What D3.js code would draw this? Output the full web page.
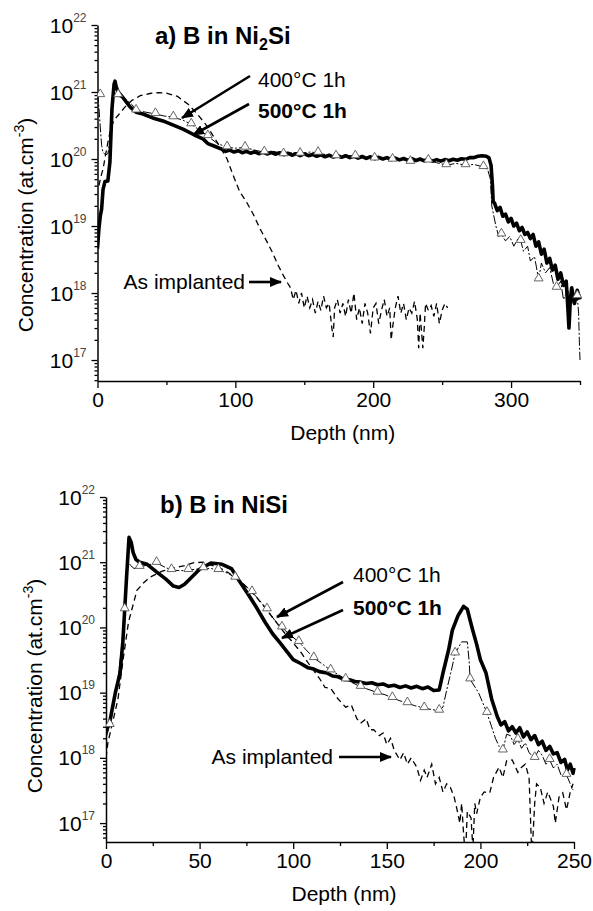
<!DOCTYPE html>
<html>
<head>
<meta charset="utf-8">
<script src="https://cdn.jsdelivr.net/npm/d3@7"></script>
<style>
  body { margin: 0; background: #fff; }
  text { font-family: "Liberation Sans", Arial, sans-serif; fill: #000; }
</style>
</head>
<body>
<div class="chart"></div>
<script>
// ---------- DATA (depth in nm, concentration in at.cm-3) ----------

// a) B in Ni2Si
const a500 = [[0,4.6e18],[1,9e18],[2,1.4e19],[3,1.8e19],[4,3.5e19],[5.4,4.6e19],[7.5,4.7e19],[9,9e19],[10.5,5.6e20],
  [12,1.3e21],[12.7,1.45e21],[13.5,1.2e21],[15,1e21],[18,8.5e20],[23.6,6e20],[28,5e20],[33,4.7e20],[40,4.1e20],
  [47.5,3.7e20],[55,3.2e20],[62,2.8e20],[70,2.3e20],[76.5,2e20],[80,1.7e20],[85,1.55e20],[90,1.4e20],
  [93,1.3e20],[96,1.36e20],[99,1.27e20],[102,1.33e20],[105,1.24e20],[108,1.3e20],[111,1.22e20],[114,1.28e20],
  [117,1.2e20],[120,1.27e20],[123,1.19e20],[126,1.25e20],[129,1.18e20],[132,1.24e20],[135,1.16e20],[138,1.22e20],
  [141,1.14e20],[144,1.2e20],[147,1.12e20],[150,1.19e20],[153,1.12e20],[156,1.17e20],[159,1.1e20],[162,1.16e20],
  [165,1.08e20],[168,1.14e20],[171,1.07e20],[174,1.13e20],[177,1.06e20],[180,1.12e20],[183,1.05e20],[186,1.1e20],
  [189,1.03e20],[192,1.09e20],[195,1.02e20],[198,1.08e20],[201,1.01e20],[204,1.06e20],[207,1e20],[210,1.05e20],
  [213,0.98e20],[216,1.03e20],[219,0.97e20],[222,1.02e20],[225,0.96e20],[228,1.01e20],[231,0.95e20],[234,1e20],
  [237,0.94e20],[240,0.99e20],[243,0.93e20],[246,0.98e20],[249,0.93e20],[252,0.98e20],[255,0.94e20],[258,0.99e20],
  [261,0.96e20],[264,1.01e20],[267,0.99e20],[270,1.05e20],[273,1.05e20],[276,1.1e20],[279,1.12e20],[282,1.1e20],
  [284,1.04e20],[285.5,8e19],[286.5,4e19],[287,2.3e19],[288,2.2e19],[290,1.7e19],[292,1.9e19],[294,1.4e19],
  [296,1.5e19],[298,1.15e19],[300,1.3e19],[302,1e19],[304,1.1e19],[306,8.5e18],[308,9.5e18],[310,7.5e18],
  [312,8e18],[314,6.5e18],[316,7.5e18],[318,5e18],[320,5.8e18],[322,3.8e18],[324,4.5e18],[326,2.8e18],
  [328,3.3e18],[330,2.2e18],[332,2.6e18],[334,1.6e18],[336,2e18],[338,1.3e18],[340,1.5e18],[341,7e17],
  [342,3e17],[343,8e17],[344,1.2e18],[346,7e17],[348,1.1e18],[350,8e17]];

const a400 = [[0,9.5e20],[1,6e20],[2,3e20],[3,1.6e20],[4,1.25e20],[6,1.15e20],[7.5,1.2e20],[9,1.8e20],[10,4e20],
  [11,9e20],[12,1e21],[13,9e20],[14,8.5e20],[16,8.5e20],[20,8e20],[25,6.5e20],[28,5.3e20],[35,5e20],[42,4.7e20],
  [48,4.4e20],[55,4.2e20],[62,3.8e20],[68,3.3e20],[74,2.7e20],[80,2.2e20],[87,1.7e20],[94,1.5e20],[100,1.45e20],
  [107,1.48e20],[114,1.36e20],[121,1.26e20],[128,1.3e20],[135,1.18e20],[141,1.25e20],[147,1.2e20],[154,1.27e20],
  [160,1.24e20],[167,1.14e20],[173,1.1e20],[180,1.14e20],[187,1.1e20],[194,1.08e20],[201,1.02e20],[207,1.04e20],
  [214,0.98e20],[220,1e20],[227,0.91e20],[233,0.96e20],[240,0.95e20],[246,0.88e20],[253,0.81e20],[260,0.86e20],
  [267,0.81e20],[273,0.83e20],[280,0.76e20],[283,0.7e20],[285,0.5e20],[286,2e19],[289,1e19],[291,7e18],
  [293,7.5e18],[296,6e18],[299,7e18],[302,5e18],[305,6.5e18],[307,6e18],[309,4.2e18],[312,5e18],[314,3e18],
  [317,3.5e18],[320,1.6e18],[322,2.8e18],[325,2e18],[328,2.4e18],[331,1.3e18],[333,1.2e18],[336,1.5e18],
  [338,8e17],[341,1.1e18],[344,7e17],[346,1e18],[348,9e17],[349,5e17],[349.5,2e17],[350,1e17]];

const a400marks = [[2,9e20],[15,9e20],[28,5.3e20],[42,4.7e20],[55,4.2e20],[68,3.3e20],[80,2.2e20],[94,1.5e20],
  [107,1.48e20],[121,1.26e20],[135,1.18e20],[147,1.2e20],[160,1.24e20],[173,1.1e20],[187,1.1e20],[201,1.02e20],
  [214,0.98e20],[227,0.91e20],[240,0.95e20],[253,0.81e20],[267,0.81e20],[280,0.76e20],[293,7.5e18],[307,6e18],
  [320,1.6e18],[333,1.2e18],[348,9e17]];

const aImpl = [[1,4e19],[3,6e19],[4,7e19],[6,1.2e20],[8,2e20],[10,3e20],[12,3.8e20],[15,4.5e20],[20,6e20],
  [25,7.5e20],[31,8.8e20],[38,9.5e20],[44,9.8e20],[50,9.6e20],[58,8.6e20],[66,6.5e20],[72,4.8e20],[76,3.8e20],
  [80,3e20],[84,2.2e20],[89,1.5e20],[94,1e20],[98,6e19],[103,3.3e19],[108,2.3e19],[113,1.5e19],[118,9e18],
  [123,5.8e18],[127,4e18],[131,2.6e18],[135,1.8e18],[138,1.4e18],[140,1.2e18],[142,8e17],[144,1.1e18],[146,7e17],
  [148,1e18],[150,6e17],[152,9e17],[154,6e17],[156,8e17],[158,5e17],[160,7.5e17],[162,5.5e17],[164,9e17],
  [166,6e17],[168,7e17],[170,3e17],[171,2.2e17],[172,6e17],[174,8e17],[176,5e17],[178,7e17],[180,4.5e17],
  [182,8e17],[184,5e17],[186,1e18],[188,4e17],[190,6e17],[192,3.5e17],[194,7e17],[196,5e17],[198,2.5e17],
  [200,6e17],[202,7e17],[204,3.5e17],[206,5.5e17],[208,8e17],[210,4.5e17],[212,6e17],[213,2e17],[214,3e17],
  [216,6e17],[218,9e17],[220,5e17],[222,7e17],[224,4e17],[226,6e17],[228,5e17],[230,7.5e17],[232,4e17],
  [233,1.5e17],[234,5e17],[236,1.5e17],[237,3e17],[238,7e17],[240,5.5e17],[242,6.5e17],[244,4.5e17],
  [246,7e17],[248,3.5e17],[250,5.5e17],[252,7e17],[254,6e17]];

// b) B in NiSi
const b500 = [[0,2.5e18],[2,3.5e18],[3.2,5.4e18],[5,1e19],[7.5,2e19],[9,6e19],[10,1.9e20],[11,6e20],[12.3,2.4e21],
  [13.5,2e21],[14.5,1.4e21],[16,1.1e21],[18,1e21],[22,9.3e20],[27,7.1e20],[32,5.5e20],[36,4.3e20],[39,4.1e20],
  [42,4.6e20],[46,6e20],[50,7.8e20],[56,9.7e20],[62,9.3e20],[67,8e20],[71.5,5e20],[76,3.2e20],[80.5,2e20],
  [85,1.2e20],[89,8e19],[93,5.8e19],[100,3.2e19],[104,2.8e19],[108,2.4e19],[111,2.3e19],[114,2.1e19],[118,2e19],
  [121,1.8e19],[124,1.75e19],[127,1.6e19],[130,1.58e19],[133,1.48e19],[136,1.45e19],[139,1.38e19],[142,1.42e19],
  [145,1.32e19],[148,1.36e19],[151,1.25e19],[154,1.3e19],[157,1.2e19],[160,1.27e19],[163,1.18e19],[166,1.25e19],
  [169,1.15e19],[172,1.22e19],[175,1.08e19],[178,1.1e19],[180,2e19],[183,4.5e19],[185,9e19],[188,1.5e20],
  [191,2.1e20],[193,1.9e20],[195.5,1e20],[198,5.5e19],[200,3.2e19],[203,2e19],[206,8e18],[209,4.3e18],
  [211,3.2e18],[213,3.6e18],[215,2.6e18],[217,3e18],[219,2.4e18],[221,2.9e18],[223,2.1e18],[225,2.5e18],
  [227,1.9e18],[229,2.2e18],[231,1.6e18],[233,1.8e18],[235,1.3e18],[237,1.5e18],[239,1.15e18],[241,1.2e18],
  [243,8.5e17],[245,9.5e17],[246.5,6.5e17],[248,8e17],[249.5,5.8e17],[250,7e17]];

const b400 = [[0,2e18],[2,3.2e18],[4,6e18],[6,1.3e19],[8,4e19],[10,1.9e20],[11,6e20],[12,1e21],[13,9e20],
  [15,8e20],[18,8.5e20],[22,9e20],[27,9.8e20],[31,8.5e20],[35,7.6e20],[40,7.4e20],[44,7.6e20],[48,7.8e20],
  [52,8.1e20],[56,8e20],[60,7.6e20],[65,6.8e20],[69,5.8e20],[74,4.5e20],[78,3.5e20],[82,2.6e20],[86,1.9e20],
  [90,1.3e20],[94,1e20],[98,7.8e19],[103,6e19],[107,4.5e19],[111,3.4e19],[116,2.7e19],[120,2.2e19],[124,1.9e19],
  [128,1.6e19],[132,1.4e19],[136,1.23e19],[141,1.1e19],[145,1e19],[149,9.3e18],[153,8.3e18],[157,7.5e18],
  [161,6.9e18],[165,6.3e18],[170,5.8e18],[174,5.5e18],[178,5.3e18],[180,6e18],[182,1.1e19],[184.5,2.2e19],
  [186.5,4e19],[190,6e19],[193,6e19],[194,3e19],[194.5,1.6e19],[199,1e19],[203.5,4.9e18],[206,3e18],[208,2e18],
  [210,1.5e18],[212,1.3e18],[214,2.3e18],[216,2.2e18],[218,1.6e18],[220,1.9e18],[222,1.4e18],[224,1.7e18],
  [226,1.2e18],[229,1e18],[231,1.3e18],[233,1.1e18],[235,8e17],[237,9.3e17],[239,7e17],[241,8e17],[243,5.5e17],
  [246,5.5e17],[248,4e17],[249.5,3.2e17]];

const b400marks = [[2,3.2e18],[10,1.9e20],[18,8.5e20],[27,9.8e20],[35,7.6e20],[44,7.6e20],[52,8.1e20],[60,7.6e20],
  [69,5.8e20],[78,3.5e20],[86,1.9e20],[94,1e20],[103,6e19],[111,3.4e19],[120,2.2e19],[128,1.6e19],[136,1.23e19],
  [145,1e19],[153,8.3e18],[161,6.9e18],[170,5.8e18],[178,5.3e18],[186.5,4e19],[194.5,1.6e19],[203.5,4.9e18],
  [212,1.3e18],[220,1.9e18],[229,1e18],[237,9.3e17],[246,5.5e17]];

const bImpl = [[0,1e18],[1,1.7e18],[4,4e18],[6.4,8e18],[9,3e19],[12,1.2e20],[16.5,3.7e20],[20,4.8e20],[23.5,5.9e20],
  [30,7.3e20],[36,8.1e20],[42,8.9e20],[46.5,9.8e20],[52,1e21],[55.6,9.1e20],[60,8.4e20],[65,7e20],[70,5.6e20],
  [75,4.2e20],[80,3e20],[85,2e20],[90,1.3e20],[95,8.5e19],[100,5.8e19],[104,4.2e19],[109,2.6e19],[114,1.66e19],
  [117,1.2e19],[120,1.17e19],[124,8e18],[128,6e18],[131,6.5e18],[134,4e18],[136,3.4e18],[139,4e18],[141,2.7e18],
  [143,2.7e18],[146,2.2e18],[148,2.4e18],[150,1.6e18],[152,2e18],[154,1.3e18],[157,9.3e17],[159,1.2e18],
  [161,8e17],[163,1e18],[166,7.2e17],[168,4.5e17],[170,6.5e17],[171.5,5e17],[174,8e17],[176,4e17],[178,5e17],
  [180,3e17],[182,4e17],[184,3.5e17],[186,2.5e17],[188,1.4e17],[189,1e17],[190,2e17],[191,7e16],[192,3e16],
  [193,1.5e17],[195,1.2e17],[196,4e16],[197,2e17],[198,1.4e17],[200,2.5e17],[202,3e17],[205,2.9e17],[207,5e17],
  [210,7.2e17],[212,5e17],[214,9e17],[217,9.3e17],[220,6e17],[222,7.2e17],[224,8e17],[226,5e17],[227.5,3e16],
  [229,2e17],[230,4e17],[232,3.5e17],[234,2e17],[236,3e17],[239,1.8e17],[240,1e17],[242,2.5e17],[244,2.9e17],
  [246,1.6e17],[248,3e17],[249.5,4e17]];

const decadesY = [1e17, 1e18, 1e19, 1e20, 1e21, 1e22];
const ticksXa = [0, 100, 200, 300];
const minorXa = [50, 150, 250, 350];
const ticksXb = [0, 50, 100, 150, 200, 250];
const minorXb = [25, 75, 125, 175, 225];

// ---------- DRAWING ----------
const W = 593, H = 911;
const svg = d3.select(".chart").append("svg")
  .attr("width", W).attr("height", H);

const defs = svg.append("defs");
defs.append("marker")
  .attr("id", "arrow")
  .attr("viewBox", "0 0 12 10")
  .attr("refX", 11).attr("refY", 5)
  .attr("markerWidth", 12).attr("markerHeight", 10)
  .attr("markerUnits", "userSpaceOnUse")
  .attr("orient", "auto")
  .append("path").attr("d", "M0,0 L12,5 L0,10 Z").attr("fill", "#000");

function drawPanel(p) {
  const X = d3.scaleLinear().domain(p.xDomain).range([p.left, p.right]);
  const Y = d3.scaleLog().domain([1e22, p.yMin]).range([p.top, p.bottom]);
  const g = svg.append("g");

  defs.append("clipPath").attr("id", "clip" + p.id)
    .append("rect")
      .attr("x", p.left).attr("y", p.top - 10)
      .attr("width", p.right - p.left + 3).attr("height", p.bottom - p.top + 10);

  // minor y ticks
  const minorY = [];
  for (let e = 16; e <= 21; e++) for (let m = 2; m <= 9; m++) {
    const v = m * Math.pow(10, e);
    if (v >= p.yMin && v <= 1e22) minorY.push(v);
  }
  g.append("g").attr("transform", "translate(" + p.left + ",0)")
    .call(d3.axisLeft(Y).tickValues(minorY).tickSize(3).tickSizeOuter(0).tickFormat(""))
    .call(a => a.select(".domain").remove());

  // major y ticks + labels with superscript
  const yAx = g.append("g").attr("transform", "translate(" + p.left + ",0)")
    .call(d3.axisLeft(Y).tickValues(decadesY).tickSize(6).tickSizeOuter(0).tickFormat(""));
  yAx.selectAll(".tick text").each(function (d) {
    const t = d3.select(this).attr("x", -11).attr("dy", null).attr("y", 7)
      .attr("font-size", 21).attr("text-anchor", "end").attr("fill", "#000");
    t.append("tspan").text("10");
    t.append("tspan").attr("dy", -11).attr("font-size", 12).attr("fill", "#444")
      .text(Math.round(Math.log10(d)));
  });

  // x axis
  g.append("g").attr("transform", "translate(0," + p.bottom + ")")
    .call(d3.axisBottom(X).tickValues(p.minorX).tickSize(4).tickSizeOuter(0).tickFormat(""))
    .call(a => a.select(".domain").remove());
  g.append("g").attr("transform", "translate(0," + p.bottom + ")")
    .call(d3.axisBottom(X).tickValues(p.ticksX).tickSize(7).tickSizeOuter(0))
    .selectAll("text")
      .attr("font-size", 21).attr("y", 11).attr("dy", "0.71em").attr("fill", "#000");

  g.selectAll(".domain, .tick line").attr("stroke", "#000").attr("stroke-width", 1.5);
  g.selectAll(".tick line").attr("stroke-width", 1.3);

  // titles
  g.append("text").attr("x", (p.left + p.right) / 2 + 4).attr("y", p.bottom + 59)
    .attr("text-anchor", "middle").attr("font-size", 21).text("Depth (nm)");
  const yt = g.append("text")
    .attr("transform", "translate(" + p.yTitleX + "," + p.yTitleY + ") rotate(-90)")
    .attr("text-anchor", "middle").attr("font-size", 21);
  yt.append("tspan").text("Concentration (at.cm");
  yt.append("tspan").attr("dy", -9).attr("font-size", 14).text("-3");
  yt.append("tspan").attr("dy", 9).text(")");

  const pt = g.append("text").attr("x", p.titleX).attr("y", p.titleY)
    .attr("font-size", 24).attr("font-weight", "bold");
  pt.append("tspan").text(p.title[0]);
  if (p.title[1]) {
    pt.append("tspan").attr("dy", 6).attr("font-size", 16).text(p.title[1]);
    pt.append("tspan").attr("dy", -6).text(p.title[2]);
  }

  // curves
  const line = d3.line().x(d => X(d[0])).y(d => Y(d[1]));
  const plot = g.append("g").attr("clip-path", "url(#clip" + p.id + ")");
  plot.append("path").datum(p.impl).attr("d", line)
    .attr("fill", "none").attr("stroke", "#000").attr("stroke-width", 1.3)
    .attr("stroke-dasharray", "6,4");
  plot.append("path").datum(p.s400).attr("d", line)
    .attr("fill", "none").attr("stroke", "#000").attr("stroke-width", 1)
    .attr("stroke-dasharray", "9,2,2,2");
  plot.append("path").datum(p.s500).attr("d", line)
    .attr("fill", "none").attr("stroke", "#000").attr("stroke-width", 3.6)
    .attr("stroke-linejoin", "round");
  plot.selectAll(".tri").data(p.marks).enter()
    .append("path")
      .attr("class", "tri")
      .attr("d", d3.symbol().type(d3.symbolTriangle).size(34))
      .attr("transform", d => "translate(" + X(d[0]) + "," + (Y(d[1]) - 1) + ")")
      .attr("fill", "#fff").attr("stroke", "#555").attr("stroke-width", 0.9);

  // annotations
  p.notes.forEach(n => {
    g.append("text").attr("x", n.x).attr("y", n.y).attr("font-size", 21)
      .attr("text-anchor", n.anchor || "start")
      .attr("font-weight", n.bold ? "bold" : "normal").text(n.text);
  });
  p.arrows.forEach(a => {
    g.append("line").attr("x1", a[0]).attr("y1", a[1]).attr("x2", a[2]).attr("y2", a[3])
      .attr("stroke", "#000").attr("stroke-width", 2.6).attr("marker-end", "url(#arrow)");
  });
}

drawPanel({
  id: "a", xDomain: [0, 350], left: 97.5, right: 580, top: 25, bottom: 381,
  yMin: Math.pow(10, 16.687), ticksX: ticksXa, minorX: minorXa,
  yTitleX: 33, yTitleY: 225, titleX: 155, titleY: 44, title: ["a) B in Ni", "2", "Si"],
  s500: a500, s400: a400, marks: a400marks, impl: aImpl,
  notes: [
    {x: 258, y: 87, text: "400°C 1h"},
    {x: 258, y: 118, text: "500°C 1h", bold: true},
    {x: 245, y: 289, text: "As implanted", anchor: "end"}
  ],
  arrows: [[250, 76, 182, 118], [249, 104, 193, 135], [249, 282, 281, 282]]
});

drawPanel({
  id: "b", xDomain: [0, 250], left: 106, right: 574, top: 497, bottom: 842,
  yMin: Math.pow(10, 16.71), ticksX: ticksXb, minorX: minorXb,
  yTitleX: 42, yTitleY: 686, titleX: 160, titleY: 513, title: ["b) B in NiSi"],
  s500: b500, s400: b400, marks: b400marks, impl: bImpl,
  notes: [
    {x: 353, y: 582, text: "400°C 1h"},
    {x: 353, y: 615, text: "500°C 1h", bold: true},
    {x: 333, y: 764, text: "As implanted", anchor: "end"}
  ],
  arrows: [[343, 582, 277, 617], [343, 610, 282, 638], [339, 757, 391, 757]]
});
</script>
</body>
</html>
